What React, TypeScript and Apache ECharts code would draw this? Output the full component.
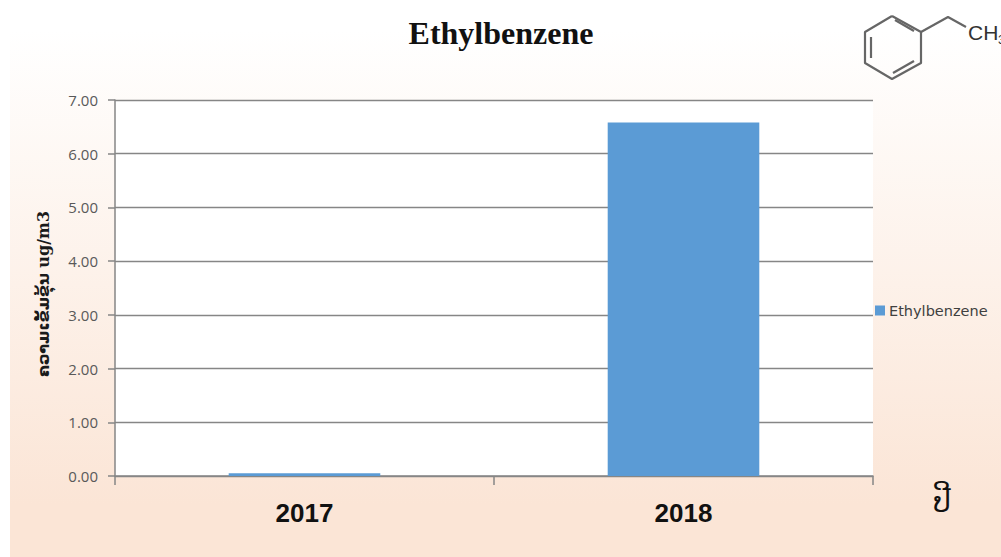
import React, { useEffect, useRef } from "react";
import * as echarts from "echarts";

const categories = ["2017", "2018"];
const seriesName = "Ethylbenzene";
const values = [0.05, 6.58];
const yTicks = { min: 0, max: 7, interval: 1 };
const titleText = "Ethylbenzene";
const yAxisTitle = "ຄວາມເຂັ້ມຂຸ້ນ ug/m3";
const xAxisTitle = "ປີ";

const line = (points: number[][], width = 2.2) => ({
  type: "polyline",
  shape: { points },
  style: { stroke: "#666666", lineWidth: width, fill: "none", lineJoin: "round" },
  silent: true,
});

export default function App() {
  const ref = useRef<HTMLDivElement>(null);
  useEffect(() => {
    document.body.style.margin = "0";
    const chart = echarts.init(ref.current!, undefined, { renderer: "svg", width: 1001, height: 557 });
    chart.setOption({
      animation: false,
      backgroundColor: "#ffffff",
      title: {
        text: titleText,
        left: 496,
        top: 12,
        textAlign: "center",
        textStyle: { fontFamily: "Liberation Serif", fontWeight: "bold", fontSize: 32, color: "#111111" },
      },
      legend: {
        show: true,
        left: 870,
        top: 298,
        icon: "rect",
        itemWidth: 10,
        itemHeight: 10,
        itemGap: 0,
        textStyle: { fontFamily: "DejaVu Sans", fontSize: 14.5, color: "#404040", padding: [0, 0, 0, -1] },
        data: [seriesName],
      },
      grid: { left: 115, right: 128, top: 100, bottom: 81, show: true, backgroundColor: "#ffffff", borderWidth: 0 },
      xAxis: {
        type: "category",
        data: categories,
        boundaryGap: true,
        axisLine: { lineStyle: { color: "#868686", width: 1.5 } },
        axisTick: { show: true, length: 9, alignWithLabel: false, lineStyle: { color: "#868686", width: 1.5 } },
        axisLabel: {
          margin: 24,
          fontFamily: "Liberation Sans",
          fontWeight: "bold",
          fontSize: 26,
          color: "#111111",
        },
      },
      yAxis: {
        type: "value",
        min: yTicks.min,
        max: yTicks.max,
        interval: yTicks.interval,
        name: yAxisTitle,
        nameLocation: "middle",
        nameRotate: 90,
        nameGap: 64,
        nameTextStyle: {
          fontFamily: "DejaVu Serif, DejaVu Sans",
          fontWeight: "bold",
          fontSize: 16,
          color: "#1a1a1a",
          padding: [0, 12, 0, 0],
        },
        axisLine: { show: true, lineStyle: { color: "#868686", width: 1.5 } },
        axisTick: { show: true, length: 7, lineStyle: { color: "#868686", width: 1.5 } },
        axisLabel: {
          margin: 17,
          formatter: (v: number) => v.toFixed(2),
          fontFamily: "Open Sans",
          fontSize: 15,
          color: "#595959",
        },
        splitLine: { show: true, lineStyle: { color: "#868686", width: 1.3 } },
      },
      series: [
        {
          name: seriesName,
          type: "bar",
          data: values,
          barWidth: "40%",
          itemStyle: { color: "#5b9bd5" },
        },
      ],
      graphic: [
        {
          type: "rect",
          z: -10,
          zlevel: 0,
          silent: true,
          shape: { x: 10, y: 30, width: 991, height: 527 },
          style: {
            fill: new echarts.graphic.LinearGradient(0, 0, 0, 1, [
              { offset: 0, color: "#ffffff" },
              { offset: 0.9, color: "#fbe5d6" },
              { offset: 1, color: "#fbe5d6" },
            ]),
          },
        },
        line([[892, 16], [921, 32], [921, 63], [892, 79], [865, 63], [865, 32], [892, 16]]),
        line([[895, 20], [914, 31]]),
        line([[871, 37], [871, 58]]),
        line([[893, 73], [914, 61]]),
        line([[921, 32], [948, 17], [966, 27]]),
        {
          type: "text",
          x: 968,
          y: 22,
          silent: true,
          style: { text: "CH", fontFamily: "Liberation Sans", fontSize: 21, fill: "#333333" },
        },
        {
          type: "text",
          x: 998,
          y: 33,
          silent: true,
          style: { text: "3", fontFamily: "Liberation Sans", fontSize: 13, fill: "#333333" },
        },
        {
          type: "text",
          x: 942,
          y: 502,
          silent: true,
          style: {
            text: xAxisTitle,
            x: 0,
            y: 0,
            align: "center",
            verticalAlign: "middle",
            fontFamily: "DejaVu Sans",
            fontSize: 28,
            fill: "#111111",
          },
        },
      ],
    });
    return () => chart.dispose();
  }, []);
  return <div ref={ref} style={{ width: 1001, height: 557 }} />;
}
